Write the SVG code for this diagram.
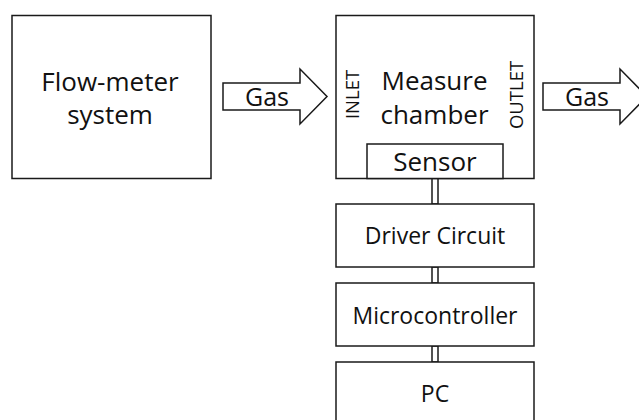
<svg xmlns="http://www.w3.org/2000/svg" width="639" height="420" viewBox="0 0 639 420">
<style>
.box{fill:#fff;stroke:#1a1a1a;stroke-width:1.5}
.lbl{font-family:"Open Sans","Noto Sans","DejaVu Sans",sans-serif;fill:#111;text-anchor:middle}
.big{font-size:26px}
.mid{font-size:23px}
.gas{font-size:25px}
.side{font-size:18.5px}
.arrow{fill:#fff;stroke:#1a1a1a;stroke-width:1.5;stroke-linejoin:miter}
</style>
<rect width="639" height="420" fill="#fff"/>
<g id="connectors">
  <polygon class="arrow" points="223,83 300,83 300,69 327,96.5 300,124 300,110 223,110"/>
  <text class="lbl gas" x="267" y="106">Gas</text>
  <polygon class="arrow" points="543,83 620,83 620,69 647,96.5 620,124 620,110 543,110"/>
  <text class="lbl gas" x="587" y="106">Gas</text>
  <rect class="box" x="432" y="178" width="6" height="26"/>
  <rect class="box" x="432" y="267" width="6" height="16"/>
  <rect class="box" x="432" y="346" width="6" height="16"/>
</g>
<g id="flowmeter">
  <rect class="box" x="12" y="15.5" width="199" height="163"/>
  <text class="lbl big" x="110" y="91">Flow-meter</text>
  <text class="lbl big" x="110" y="124">system</text>
</g>
<g id="chamber">
  <rect class="box" x="336" y="15.5" width="198" height="163"/>
  <text class="lbl big" x="434.5" y="90">Measure</text>
  <text class="lbl big" x="434.5" y="124">chamber</text>
  <text class="lbl side" transform="translate(358.5,94.5) rotate(-90)">INLET</text>
  <text class="lbl side" transform="translate(523,95) rotate(-90)">OUTLET</text>
</g>
<g id="sensor">
  <rect class="box" x="367" y="144" width="136" height="34.5"/>
  <text class="lbl big" x="435" y="171">Sensor</text>
</g>
<g id="driver">
  <rect class="box" x="336" y="204" width="198" height="63"/>
  <text class="lbl mid" x="435" y="244">Driver Circuit</text>
</g>
<g id="micro">
  <rect class="box" x="336" y="283" width="198" height="63"/>
  <text class="lbl mid" x="435" y="324">Microcontroller</text>
</g>
<g id="pc">
  <rect class="box" x="336" y="362" width="198" height="63"/>
  <text class="lbl mid" x="435" y="402">PC</text>
</g>
</svg>
